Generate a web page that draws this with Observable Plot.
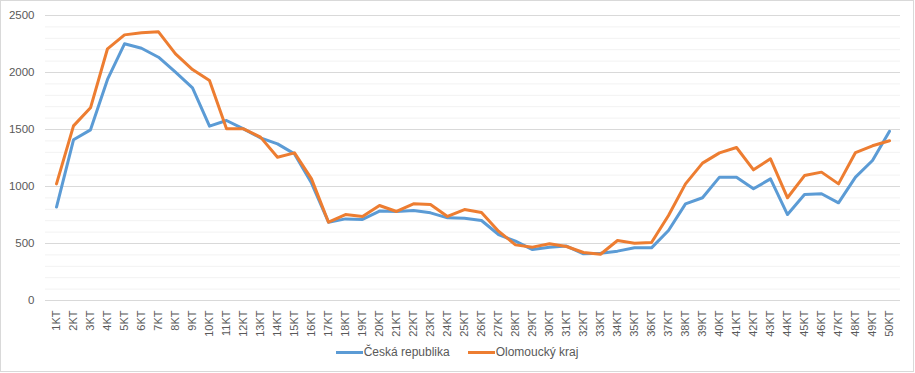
<!DOCTYPE html>
<html>
<head>
<meta charset="utf-8">
<script src="https://cdn.jsdelivr.net/npm/d3@7"></script>
<script src="https://cdn.jsdelivr.net/npm/@observablehq/plot@0.6"></script>
<style>
  body { margin: 0; background: #fff; font-family: "Liberation Sans", Arial, sans-serif; }
  #chart { position: relative; width: 914px; height: 372px; border: 1px solid #d9d9d9; box-sizing: border-box; overflow: hidden; }
  #chart svg { position: absolute; left: 0; top: 0; }
  #legend { position: absolute; left: 0; right: 0; top: 344px; display: flex; justify-content: center; gap: 18px; font-size: 12px; color: #595959; }
  .item { display: flex; align-items: center; }
  .swatch { width: 27px; height: 3px; margin-right: 1px; }
</style>
</head>
<body>
<div id="chart"><div id="legend"></div></div>
<script>
const weeks = Array.from({length: 50}, (_, i) => `${i + 1}KT`);
const seriesNames = ["Česká republika", "Olomoucký kraj"];
const cz = [820, 1410, 1497, 1939, 2252, 2213, 2134, 2003, 1865, 1529,
            1579, 1506, 1427, 1374, 1286, 1030, 687, 716, 711, 784,
            781, 789, 769, 725, 722, 702, 579, 520, 447, 468,
            477, 409, 415, 433, 462, 462, 614, 848, 901, 1082,
            1082, 980, 1067, 754, 930, 936, 857, 1082, 1228, 1485];
const olo = [1023, 1532, 1690, 2208, 2330, 2348, 2357, 2163, 2026, 1930,
             1506, 1506, 1433, 1257, 1295, 1067, 687, 754, 737, 833,
             781, 848, 842, 737, 798, 772, 608, 488, 468, 497,
             474, 421, 406, 526, 503, 509, 746, 1023, 1205, 1295,
             1342, 1146, 1243, 901, 1096, 1126, 1023, 1298, 1357, 1401];
const majorTicks = [0, 500, 1000, 1500, 2000, 2500];
const minorTicks = d3.range(0, 2501, 100).filter(v => v % 500 !== 0);
const colors = ["#5b9bd5", "#ed7d31"];

const data = [];
weeks.forEach((w, i) => {
  data.push({week: w, series: seriesNames[0], value: cz[i]});
  data.push({week: w, series: seriesNames[1], value: olo[i]});
});

const chart = Plot.plot({
  width: 912,
  height: 341,
  marginTop: 14,
  marginBottom: 42,
  marginLeft: 44,
  marginRight: 13,
  style: {fontFamily: '"Liberation Sans", Arial, sans-serif', fontSize: "11px", color: "#595959", background: "transparent"},
  x: {type: "point", domain: weeks, padding: 0.5},
  y: {domain: [0, 2500]},
  color: {domain: seriesNames, range: colors},
  marks: [
    Plot.ruleY(minorTicks, {stroke: "#f2f2f2", strokeWidth: 1}),
    Plot.ruleY(majorTicks, {stroke: "#d9d9d9", strokeWidth: 1}),
    Plot.axisY({ticks: majorTicks, tickFormat: d => String(d), tickSize: 0, tickPadding: 11, label: null, fill: "#595959", fontSize: 11.5}),
    Plot.axisX({tickSize: 0, tickPadding: 10, tickRotate: -90, label: null, fill: "#595959", fontSize: 11}),
    Plot.line(data, {x: "week", y: "value", z: "series", stroke: "series", strokeWidth: 3, strokeLinejoin: "round", strokeLinecap: "round"})
  ]
});
document.getElementById("chart").prepend(chart);

const legend = document.getElementById("legend");
seriesNames.forEach((name, i) => {
  const item = document.createElement("div");
  item.className = "item";
  const sw = document.createElement("span");
  sw.className = "swatch";
  sw.style.background = colors[i];
  const t = document.createElement("span");
  t.textContent = name;
  item.append(sw, t);
  legend.append(item);
});
</script>
</body>
</html>
